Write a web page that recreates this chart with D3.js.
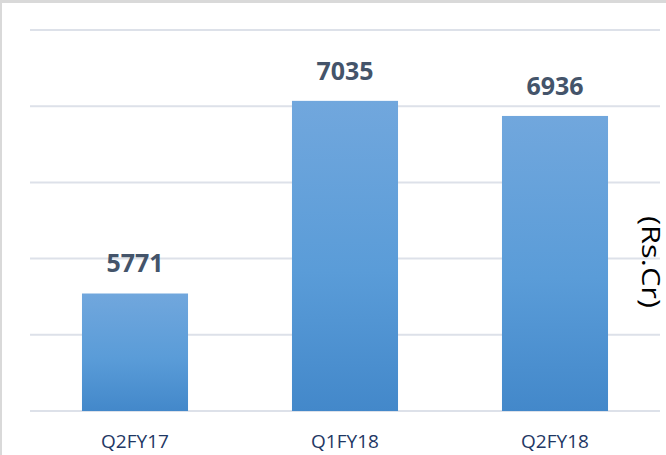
<!DOCTYPE html>
<html>
<head>
<meta charset="utf-8">
<script src="https://cdn.jsdelivr.net/npm/d3@7"></script>
<style>
  body { margin: 0; background: #d9d9d9; }
  #graf { position: absolute; left: 2px; top: 3px; width: 664px; height: 452px; background: #fff; }
  svg { display: block; }
</style>
</head>
<body>
<div id="graf"></div>
<script>
// datos
trimestres = ['Q2FY17', 'Q1FY18', 'Q2FY18']
valores = [5771, 7035, 6936]
ticksY = [5000, 5500, 6000, 6500, 7000, 7500]

anchoTotal = 664
altoTotal = 452
margen = { superior: 27, izquierdo: 28, derecho: 6, inferior: 44 }
ancho = anchoTotal - margen.izquierdo - margen.derecho
alto = altoTotal - margen.superior - margen.inferior

svg = d3.select('#graf').append('svg')
  .attr('width', anchoTotal)
  .attr('height', altoTotal)

// degradado de las barras
grad = svg.append('defs').append('linearGradient')
  .attr('id', 'gradBarra')
  .attr('x1', 0).attr('y1', 0).attr('x2', 0).attr('y2', 1)
grad.append('stop').attr('offset', '0%').attr('stop-color', '#71a7dd')
grad.append('stop').attr('offset', '55%').attr('stop-color', '#5a9cd8')
grad.append('stop').attr('offset', '100%').attr('stop-color', '#4388ca')

g = svg.append('g')
  .attr('transform', `translate(${ margen.izquierdo }, ${ margen.superior })`)

x = d3.scaleBand().domain(trimestres).range([0, ancho]).paddingInner(0.495).paddingOuter(0.2475)
y = d3.scaleLinear().domain([5000, 7500]).range([alto, 0])

// lineas de la rejilla
g.append('g').selectAll('line')
  .data(ticksY)
  .join('line')
  .attr('x1', 0).attr('x2', ancho)
  .attr('y1', d => y(d)).attr('y2', d => y(d))
  .attr('stroke', '#dde1e9')
  .attr('stroke-width', 2)

// barras
g.selectAll('rect.barra')
  .data(valores)
  .join('rect')
  .attr('class', 'barra')
  .attr('x', (d, i) => x(trimestres[i]))
  .attr('y', d => y(d))
  .attr('width', x.bandwidth())
  .attr('height', d => alto - y(d))
  .attr('fill', 'url(#gradBarra)')

// etiquetas de valor
g.selectAll('text.valor')
  .data(valores)
  .join('text')
  .attr('class', 'valor')
  .attr('x', (d, i) => x(trimestres[i]) + x.bandwidth() / 2)
  .attr('y', d => y(d) - 21)
  .attr('text-anchor', 'middle')
  .attr('font-family', 'Open Sans, sans-serif')
  .attr('font-weight', 'bold')
  .attr('font-size', '25px')
  .attr('fill', '#44546a')
  .text(d => d)

// eje X
xAxis = g.append('g')
  .attr('transform', `translate(0, ${ alto })`)
  .call(d3.axisBottom(x).tickSize(0).tickPadding(0))
xAxis.select('.domain').remove()
xAxis.selectAll('text')
  .attr('dy', null)
  .attr('y', 37)
  .attr('font-family', 'Open Sans, sans-serif')
  .attr('font-size', '19px')
  .attr('fill', '#1f3864')

// unidad
svg.append('text')
  .attr('transform', `translate(640, 259) rotate(90)`)
  .attr('text-anchor', 'middle')
  .attr('font-family', 'Open Sans, sans-serif')
  .attr('font-size', '26px')
  .attr('textLength', 92)
  .attr('lengthAdjust', 'spacingAndGlyphs')
  .attr('fill', '#000')
  .text('(Rs.Cr)')
</script>
</body>
</html>
